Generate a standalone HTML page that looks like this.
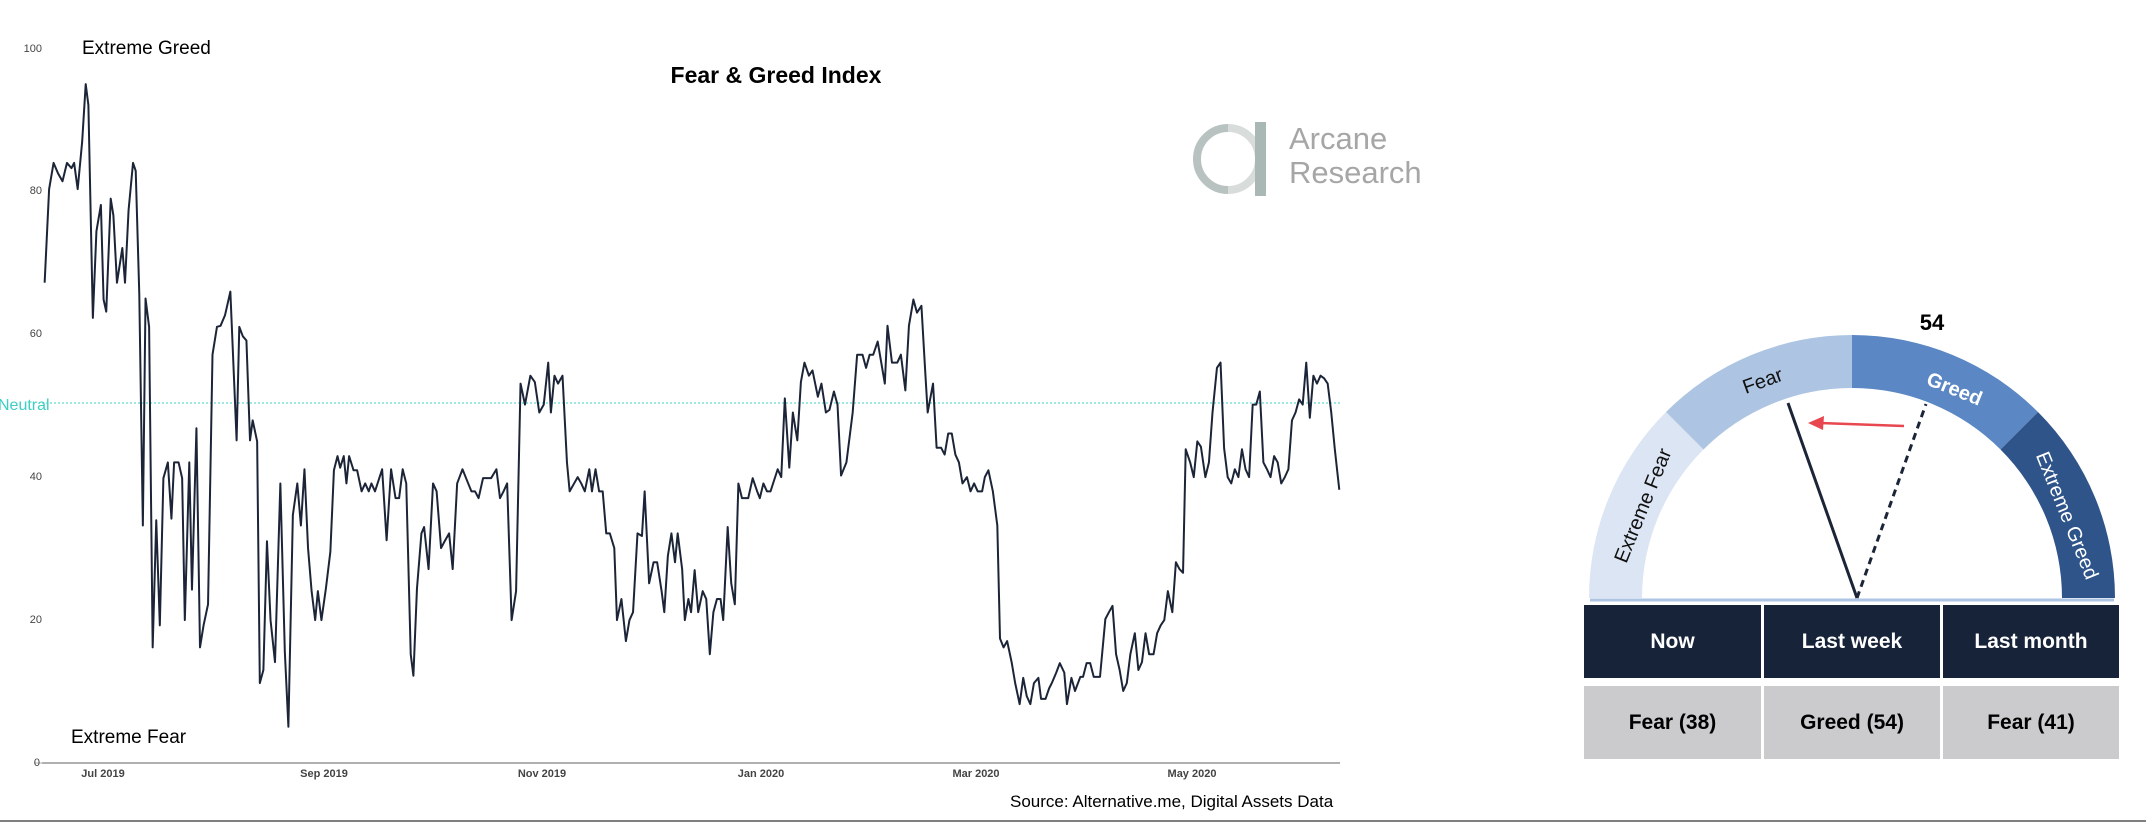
<!DOCTYPE html>
<html><head><meta charset="utf-8"><style>
html,body{margin:0;padding:0;background:#fff;}
body{width:2146px;height:824px;position:relative;overflow:hidden;font-family:"Liberation Sans",sans-serif;}
.t{position:absolute;white-space:nowrap;}
.cell{position:absolute;display:flex;align-items:center;justify-content:center;font-weight:bold;font-size:21px;}
</style></head><body>
<svg width="2146" height="824" style="position:absolute;left:0;top:0">
  <line x1="42" y1="763" x2="1340" y2="763" stroke="#b0b0b0" stroke-width="2"/>
  <line x1="34" y1="763" x2="42" y2="763" stroke="#b0b0b0" stroke-width="1"/>
  <line x1="42" y1="403" x2="1340" y2="403" stroke="#7fe0d8" stroke-width="1.5" stroke-dasharray="2,2"/>
  <g font-family="Liberation Sans, sans-serif" font-size="11" fill="#444" text-anchor="end">
    <text x="42" y="52">100</text><text x="42" y="194">80</text><text x="42" y="337">60</text>
    <text x="42" y="480">40</text><text x="42" y="623">20</text><text x="40" y="766">0</text>
  </g>
  <g font-family="Liberation Sans, sans-serif" font-size="11" font-weight="bold" fill="#444" text-anchor="middle">
    <text x="103" y="777">Jul 2019</text><text x="324" y="777">Sep 2019</text><text x="542" y="777">Nov 2019</text>
    <text x="761" y="777">Jan 2020</text><text x="976" y="777">Mar 2020</text><text x="1192" y="777">May 2020</text>
  </g>
  <text x="-2" y="410" font-family="Liberation Sans, sans-serif" font-size="16" fill="#3ccfc4">Neutral</text>
  <g transform="scale(0.892857,0.52548)">
  <polyline fill="none" stroke="#1c2538" stroke-width="2" vector-effect="non-scaling-stroke" stroke-linejoin="round" points="50,538 55,360 60,310 65,330 70,345 75,310 80,320 83,310 87,360 92,270 96,160 99,200 104,605 108,440 113,390 116,570 119,593 124,378 127,410 131,538 137,472 140,538 144,400 149,310 152,325 156,560 160,1000 163,568 167,622 171,1232 175,990 179,1190 183,910 188,880 192,987 195,880 200,880 204,910 207,1180 212,880 215,1122 220,815 224,1232 228,1190 233,1150 238,675 243,622 247,620 252,600 258,555 265,838 268,622 272,640 276,648 280,838 283,800 288,840 291,1300 295,1275 299,1030 303,1180 308,1260 314,920 319,1240 323,1383 328,980 333,920 337,1000 341,893 345,1043 349,1125 353,1180 356,1125 360,1180 365,1120 370,1050 374,895 378,868 381,890 385,868 388,920 391,868 396,895 400,895 405,935 409,920 413,935 416,920 420,935 428,893 433,1028 438,893 443,948 447,948 451,893 455,920 460,1245 463,1286 467,1120 472,1015 475,1003 480,1083 485,920 489,935 494,1043 498,1030 503,1015 507,1083 512,920 518,893 522,910 528,935 532,935 536,948 541,910 550,910 556,893 560,948 564,935 568,920 573,1180 578,1125 583,730 588,770 594,715 599,727 604,785 609,770 614,690 617,785 621,715 625,730 630,715 635,880 638,935 643,920 647,908 651,920 655,935 660,893 663,935 667,893 671,935 675,935 679,1015 683,1015 688,1043 691,1180 696,1140 701,1220 705,1180 709,1165 714,1015 719,1020 722,935 727,1110 732,1070 736,1070 741,1125 744,1165 748,1058 752,1015 756,1070 759,1015 764,1083 767,1180 771,1140 774,1165 778,1085 782,1165 787,1125 791,1140 795,1245 799,1165 803,1140 807,1140 810,1180 815,1003 819,1110 823,1150 827,920 831,948 838,948 843,910 848,935 851,948 855,920 859,935 863,935 871,893 875,908 879,758 884,890 888,785 893,838 897,727 901,690 906,715 910,705 916,755 920,730 925,785 929,780 934,745 938,770 942,905 948,880 955,785 960,675 966,675 970,700 974,675 978,675 983,650 987,690 991,730 994,620 999,690 1005,690 1009,675 1014,743 1018,620 1023,570 1027,595 1032,582 1036,700 1039,785 1045,730 1049,852 1054,852 1058,865 1062,825 1066,825 1070,865 1074,880 1078,920 1083,908 1087,935 1091,920 1095,935 1100,935 1103,908 1107,895 1112,935 1117,1000 1120,1215 1124,1232 1128,1220 1133,1260 1137,1300 1142,1340 1146,1290 1150,1325 1154,1340 1158,1300 1163,1290 1166,1330 1171,1330 1175,1310 1178,1300 1183,1280 1187,1262 1192,1280 1195,1340 1200,1290 1204,1315 1210,1288 1213,1288 1217,1262 1221,1262 1225,1288 1232,1288 1238,1178 1242,1165 1246,1153 1250,1245 1254,1275 1258,1315 1262,1300 1266,1245 1271,1205 1275,1275 1279,1260 1283,1205 1287,1245 1292,1245 1296,1205 1300,1190 1304,1180 1308,1125 1313,1165 1317,1070 1321,1083 1325,1090 1328,855 1333,880 1337,908 1341,840 1345,850 1350,908 1354,880 1358,785 1363,700 1367,690 1371,853 1375,908 1379,920 1383,893 1387,908 1391,855 1395,893 1399,908 1403,770 1407,770 1411,745 1415,880 1419,893 1423,908 1427,868 1431,880 1435,920 1439,908 1443,893 1447,800 1451,785 1455,760 1459,770 1463,690 1467,795 1471,715 1475,730 1479,715 1483,720 1487,730 1491,785 1495,855 1500,932"/>
  </g>
  <!-- logo -->
  <circle cx="1228" cy="159" r="31" fill="none" stroke="#b8c2c0" stroke-width="8"/>
  <rect x="1255" y="122" width="11" height="74" fill="#a9b8b5"/>
  <rect x="1228" y="122" width="27" height="74" fill="#fff" opacity="0.45"/>
  <line x1="0" y1="821" x2="2146" y2="821" stroke="#555" stroke-width="1.5"/>

  <!-- gauge -->
  <g transform="translate(1852,598)">
    <path d="M-263,0 A263,263 0 0 1 -186,-186 L-148.5,-148.5 A210,210 0 0 0 -210,0Z" fill="#dce5f3"/>
    <path d="M-186,-186 A263,263 0 0 1 0,-263 L0,-210 A210,210 0 0 0 -148.5,-148.5Z" fill="#adc4e3"/>
    <path d="M0,-263 A263,263 0 0 1 186,-186 L148.5,-148.5 A210,210 0 0 0 0,-210Z" fill="#5b87c4"/>
    <path d="M186,-186 A263,263 0 0 1 263,0 L210,0 A210,210 0 0 0 148.5,-148.5Z" fill="#2f548a"/>
  </g>
  <line x1="1590" y1="600" x2="2114" y2="600" stroke="#adc4e3" stroke-width="3"/>
  <line x1="1857" y1="598" x2="1788" y2="403" stroke="#1c2538" stroke-width="3"/>
  <line x1="1857" y1="598" x2="1926" y2="404" stroke="#1c2538" stroke-width="3" stroke-dasharray="7,5"/>
  <line x1="1904" y1="426" x2="1820" y2="423" stroke="#e8474f" stroke-width="2.5"/>
  <polygon points="1808,423 1824,416 1823,430" fill="#e8474f"/>
  <g font-family="Liberation Sans, sans-serif" font-size="20">
    <text transform="translate(1765,387) rotate(-20)" text-anchor="middle" fill="#111">Fear</text>
    <text transform="translate(1952,395) rotate(22)" text-anchor="middle" fill="#fff" font-weight="bold">Greed</text>
    <text transform="translate(1649,508) rotate(-68)" text-anchor="middle" fill="#111">Extreme Fear</text>
    <text transform="translate(2061,518) rotate(68)" text-anchor="middle" fill="#fff">Extreme Greed</text>
  </g>
  <text x="1932" y="330" text-anchor="middle" font-family="Liberation Sans, sans-serif" font-size="22" font-weight="bold">54</text>
</svg>
<div class="t" style="left:82px;top:38px;font-size:19px">Extreme Greed</div>
<div class="t" style="left:71px;top:727px;font-size:19px">Extreme Fear</div>
<div class="t" style="left:0;width:1552px;text-align:center;top:62px;font-size:23px;font-weight:bold">Fear &amp; Greed Index</div>
<div class="t" style="left:1289px;top:122px;font-size:31px;color:#a6a6a6;line-height:34px">Arcane<br>Research</div>
<div class="t" style="left:1010px;top:792px;font-size:17px">Source: Alternative.me, Digital Assets Data</div>
<div class="cell" style="left:1584px;top:605px;width:177px;height:73px;background:#172339;color:#fff">Now</div>
<div class="cell" style="left:1764px;top:605px;width:176px;height:73px;background:#172339;color:#fff">Last week</div>
<div class="cell" style="left:1943px;top:605px;width:176px;height:73px;background:#172339;color:#fff">Last month</div>
<div class="cell" style="left:1584px;top:686px;width:177px;height:73px;background:#cbcbcd">Fear (38)</div>
<div class="cell" style="left:1764px;top:686px;width:176px;height:73px;background:#cbcbcd">Greed (54)</div>
<div class="cell" style="left:1943px;top:686px;width:176px;height:73px;background:#cbcbcd">Fear (41)</div>
</body></html>
